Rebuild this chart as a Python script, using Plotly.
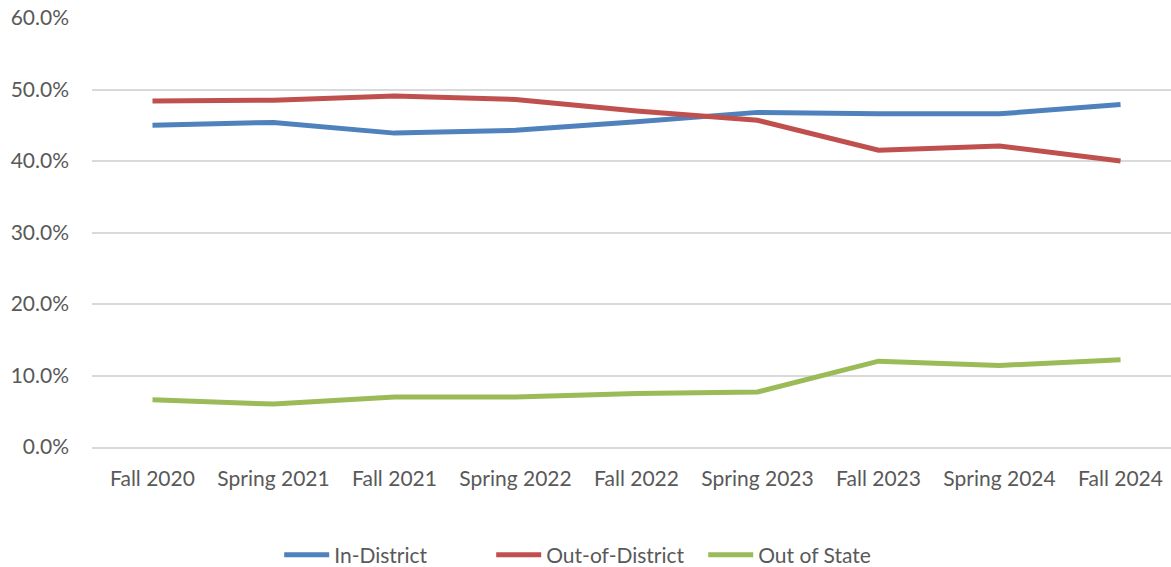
import plotly.graph_objects as go

terms = [
    "Fall 2020", "Spring 2021", "Fall 2021", "Spring 2022", "Fall 2022",
    "Spring 2023", "Fall 2023", "Spring 2024", "Fall 2024",
]
in_district = [0.450, 0.454, 0.439, 0.443, 0.455, 0.468, 0.466, 0.466, 0.479]
out_of_district = [0.484, 0.485, 0.491, 0.486, 0.470, 0.457, 0.415, 0.421, 0.400]
out_of_state = [0.066, 0.060, 0.070, 0.070, 0.075, 0.077, 0.120, 0.114, 0.122]

series = [
    ("In-District", in_district, "#4F81BD"),
    ("Out-of-District", out_of_district, "#C0504D"),
    ("Out of State", out_of_state, "#9BBB59"),
]

fig = go.Figure()
for name, values, colour in series:
    fig.add_trace(
        go.Scatter(
            x=terms,
            y=values,
            name=name,
            mode="lines",
            line=dict(color=colour, width=5),
        )
    )

fig.update_layout(
    width=1171,
    height=567,
    margin=dict(l=92, r=0, t=18, b=120),
    paper_bgcolor="white",
    plot_bgcolor="white",
    font=dict(family="Lato, Open Sans, sans-serif", size=21, color="#595959"),
    legend=dict(
        orientation="h",
        xref="container",
        yref="container",
        x=0.51,
        xanchor="center",
        y=0.021,
        yanchor="middle",
        font=dict(size=21, color="#595959"),
        itemwidth=45,
        entrywidth=152,
        entrywidthmode="pixels",
        tracegroupgap=0,
    ),
    xaxis=dict(
        type="category",
        # the source chart is cropped on the right, so the last slot is cut short
        range=[-0.5, 8.417],
        showgrid=False,
        showline=True,
        linecolor="#D9D9D9",
        linewidth=1.5,
        ticks="",
        ticklabelstandoff=12,
        automargin=False,
    ),
    yaxis=dict(
        range=[0, 0.6],
        dtick=0.1,
        tickformat=".1%",
        showgrid=True,
        gridcolor="#D9D9D9",
        gridwidth=1.5,
        zeroline=False,
        showline=False,
        ticks="",
        ticklabelstandoff=22,
        automargin=False,
        ticklabeloverflow="allow",
    ),
)

# drop the default body margin so the figure fills the window exactly
page_fix = (
    "document.body.style.margin = '0';"
    "document.body.style.overflow = 'hidden';"
    "document.documentElement.style.overflow = 'hidden';"
)
fig.write_html(
    "out.html",
    config={"displayModeBar": False},
    post_script=page_fix,
)
